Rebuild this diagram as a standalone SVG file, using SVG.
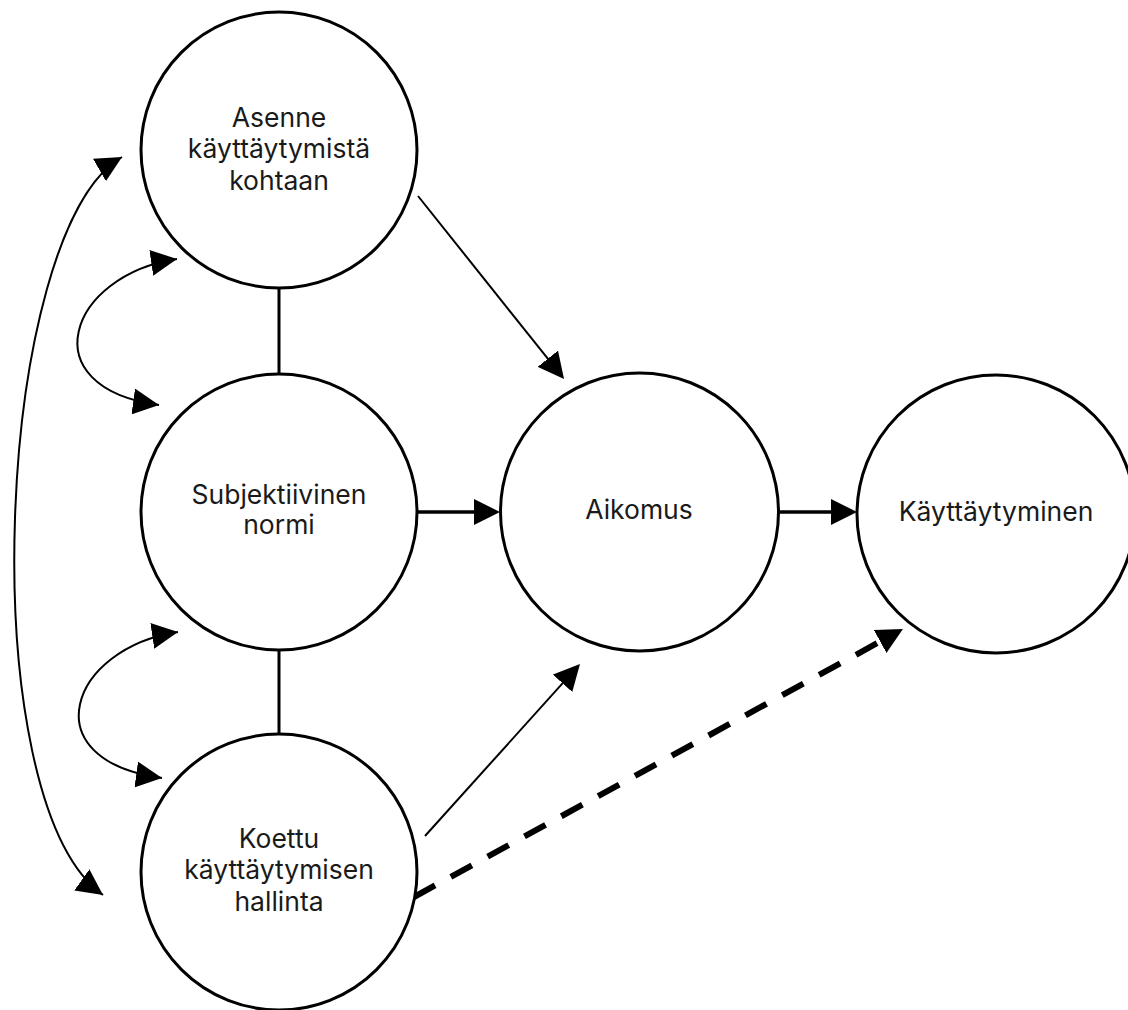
<svg xmlns="http://www.w3.org/2000/svg" width="1128" height="1010" viewBox="0 0 1128 1010">
<style>
.node circle{fill:#fff;stroke:#000;stroke-width:3}
.node text{font-family:Inter,"Liberation Sans",sans-serif;font-size:26.5px;fill:#1a1a1a;text-anchor:middle}
.thin{fill:none;stroke:#000;stroke-width:2}
.thick{fill:none;stroke:#000;stroke-width:3.5}
.dash{fill:none;stroke:#000;stroke-width:6;stroke-dasharray:24 18}
.curve{fill:none;stroke:#000;stroke-width:2}
</style>
<defs>
<marker id="ah" markerUnits="userSpaceOnUse" markerWidth="26" markerHeight="26" refX="16" refY="13" orient="auto" viewBox="0 0 26 26"><path d="M0,0 L26,13 L0,26 z" fill="#000"/></marker>
<marker id="ahc" markerUnits="userSpaceOnUse" markerWidth="26" markerHeight="26" refX="26" refY="13" orient="auto-start-reverse" viewBox="0 0 26 26"><path d="M0,0 L26,13 L0,26 z" fill="#000"/></marker>
</defs>
<g id="connectors">
<line x1="279" y1="288" x2="279" y2="374" class="thick" style="stroke-width:3"/>
<line x1="279" y1="650" x2="279" y2="735" class="thick" style="stroke-width:3"/>
<line x1="418" y1="196" x2="557.8" y2="371.2" class="thin" marker-end="url(#ah)"/>
<line x1="418" y1="512" x2="490" y2="512" class="thick" marker-end="url(#ah)"/>
<line x1="779" y1="512" x2="847" y2="512" class="thick" marker-end="url(#ah)"/>
<line x1="425" y1="836" x2="573.3" y2="671.4" class="thin" marker-end="url(#ah)"/>
<line x1="414" y1="897" x2="894.2" y2="633.8" class="dash" marker-end="url(#ah)"/>
<path d="M177,259 C69,275 29,387 159,405" class="curve" marker-start="url(#ahc)" marker-end="url(#ahc)"/>
<path d="M178,632 C70,648 30,760 162,778" class="curve" marker-start="url(#ahc)" marker-end="url(#ahc)"/>
<path d="M122,157 C-5,230 -30,800 103,895" class="curve" marker-start="url(#ahc)" marker-end="url(#ahc)"/>
</g>
<g id="asenne" class="node"><circle cx="279" cy="150" r="138"/><text x="279" y="127">Asenne</text><text x="279" y="158">käyttäytymistä</text><text x="279" y="190">kohtaan</text></g>
<g id="subjektiivinen" class="node"><circle cx="279" cy="512" r="138"/><text x="279" y="504">Subjektiivinen</text><text x="279" y="534">normi</text></g>
<g id="koettu" class="node"><circle cx="279" cy="872" r="138"/><text x="279" y="848">Koettu</text><text x="279" y="879">käyttäytymisen</text><text x="279" y="911">hallinta</text></g>
<g id="aikomus" class="node"><circle cx="639.5" cy="512" r="139"/><text x="639" y="519">Aikomus</text></g>
<g id="kayttaytyminen" class="node"><circle cx="996" cy="514" r="139"/><text x="996" y="521">Käyttäytyminen</text></g>
</svg>
